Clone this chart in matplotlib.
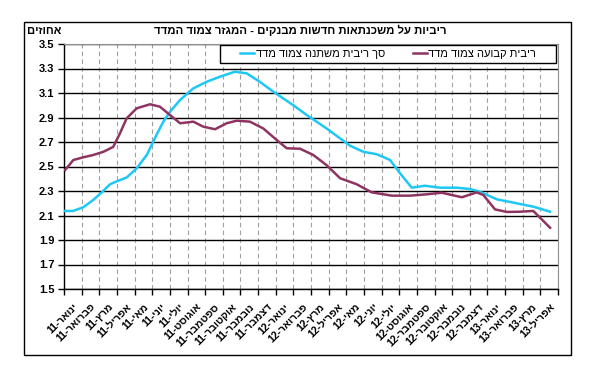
import re
import matplotlib
matplotlib.use("Agg")
import matplotlib.pyplot as plt
from matplotlib.patches import Rectangle
from matplotlib.ticker import FixedLocator, NullFormatter

plt.rcParams['font.family'] = ['Liberation Sans', 'DejaVu Sans']


def heb(s):
    # matplotlib has no bidi: flip to visual order, keep numbers readable
    return re.sub(r'\d+', lambda m: m.group()[::-1], s[::-1])


title = "ריביות על משכנתאות חדשות מבנקים - המגזר צמוד המדד"
y_label = "אחוזים"
name_var = "סך ריבית משתנה צמוד מדד"
name_fix = "ריבית קבועה צמוד מדד"

months = ["ינואר", "פברואר", "מרץ", "אפריל", "מאי", "יוני", "יולי",
          "אוגוסט", "ספטמבר", "אוקטובר", "נובמבר", "דצמבר"]
month_labels = [f"{m}-11" for m in months] + [f"{m}-12" for m in months] + \
               [f"{m}-13" for m in months[:4]]

# time in months since start of Jan 2011
t_var = [0.06, 0.51, 1.09, 1.66, 2.14, 2.61, 3.08, 3.55, 4.12, 4.69, 5.26, 5.63,
         6.01, 6.58, 7.33, 8.09, 8.84, 9.69, 10.36, 11.11, 11.87, 13.0, 13.76,
         14.89, 16.21, 16.97, 17.73, 18.48, 19.05, 19.71, 20.46, 21.32, 22.26,
         23.02, 23.58, 24.53, 25.47, 26.6, 27.55]
rate_var = [2.137, 2.137, 2.167, 2.227, 2.289, 2.355, 2.384, 2.41, 2.485, 2.594,
            2.763, 2.866, 2.947, 3.043, 3.138, 3.192, 3.233, 3.274, 3.26, 3.19,
            3.11, 3.0, 2.92, 2.81, 2.67, 2.62, 2.60, 2.553, 2.444, 2.327, 2.343,
            2.327, 2.327, 2.316, 2.294, 2.232, 2.205, 2.172, 2.131]

t_fix = [0.06, 0.53, 1.09, 1.66, 2.23, 2.79, 3.17, 3.55, 4.12, 4.88, 5.44, 6.01,
         6.58, 7.33, 7.90, 8.56, 9.22, 9.79, 10.54, 11.30, 12.06, 12.62, 13.38,
         14.13, 14.89, 15.65, 16.59, 17.44, 18.58, 19.61, 20.56, 21.41, 22.55,
         23.40, 23.77, 24.43, 25.10, 25.85, 26.60, 27.55]
rate_fix = [2.471, 2.553, 2.575, 2.594, 2.62, 2.66, 2.77, 2.893, 2.975, 3.008,
            2.988, 2.92, 2.853, 2.866, 2.825, 2.804, 2.853, 2.874, 2.866, 2.81,
            2.716, 2.649, 2.645, 2.594, 2.51, 2.404, 2.355, 2.289, 2.262, 2.262,
            2.273, 2.286, 2.249, 2.289, 2.267, 2.15, 2.129, 2.131, 2.137, 2.0]

y_ticks = [1.5, 1.7, 1.9, 2.1, 2.3, 2.5, 2.7, 2.9, 3.1, 3.3, 3.5]

W, H = 593, 380
fig = plt.figure(figsize=(W / 100, H / 100), dpi=100)
ax = fig.add_axes([64 / W, 1 - 289 / H, (558 - 64) / W, (289 - 44) / H])

ax.plot(t_var, rate_var, color="#1EC8F5", lw=1.8, label=heb(name_var), zorder=4)
ax.plot(t_fix, rate_fix, color="#8E3462", lw=1.8, label=heb(name_fix), zorder=4)

n = len(month_labels)
ax.set_xlim(0, n)
ax.set_ylim(1.5, 3.5)
ax.set_yticks(y_ticks)
ax.set_yticklabels([f"{v:.1f}" for v in y_ticks], fontsize=8, weight="bold")

ax.xaxis.set_major_locator(FixedLocator(range(n + 1)))
ax.xaxis.set_major_formatter(NullFormatter())
ax.xaxis.set_minor_locator(FixedLocator([k + 0.5 for k in range(n)]))
ax.set_xticklabels([heb(s) for s in month_labels], minor=True, rotation=45,
                   ha="right", va="top", rotation_mode="anchor",
                   fontsize=7.5, weight="bold")
ax.tick_params(axis="x", which="minor", length=0, pad=9)
ax.tick_params(axis="x", which="major", length=4, width=1, direction="out")
ax.tick_params(axis="y", length=4, width=1, direction="out", pad=3)

ax.grid(axis="y", color="black", lw=1, ls="-")
ax.grid(axis="x", which="major", color="#A0A0A0", lw=0.8, ls=(0, (4, 3)))
ax.set_axisbelow(True)
for side in ("top", "right"):
    ax.spines[side].set_color("#909090")
for side in ("left", "bottom"):
    ax.spines[side].set_linewidth(1)

# legend box
def ax_xy(px, py):
    return (px - 64) / (558 - 64), (289 - py) / (289 - 44)

x0, y1 = ax_xy(220, 45)
x1, y0 = ax_xy(556, 63)
ax.add_patch(Rectangle((x0, y0), x1 - x0, y1 - y0, transform=ax.transAxes,
                       facecolor="white", edgecolor="black", lw=1, zorder=5))
lx0, _ = ax_xy(240, 0)
lx1, _ = ax_xy(536, 0)
leg = ax.legend(loc="center", bbox_to_anchor=(lx0, y0, lx1 - lx0, y1 - y0),
                mode="expand", ncol=2, frameon=False, fontsize=8,
                handlelength=1.3, handletextpad=0.1, borderpad=0,
                borderaxespad=0)
leg.set_zorder(6)

fig.text(300 / W, 1 - 30 / H, heb(title), ha="center", va="center",
         fontsize=8.2, weight="bold")
fig.text(44 / W, 1 - 31 / H, heb(y_label), ha="center", va="center",
         fontsize=8, weight="bold")
fig.patches.append(Rectangle((24 / W, 1 - 355 / H), (571 - 24) / W, (355 - 22) / H,
                             transform=fig.transFigure, fill=False,
                             edgecolor="black", lw=1))

fig.savefig("out.png", dpi=100, facecolor="white")
